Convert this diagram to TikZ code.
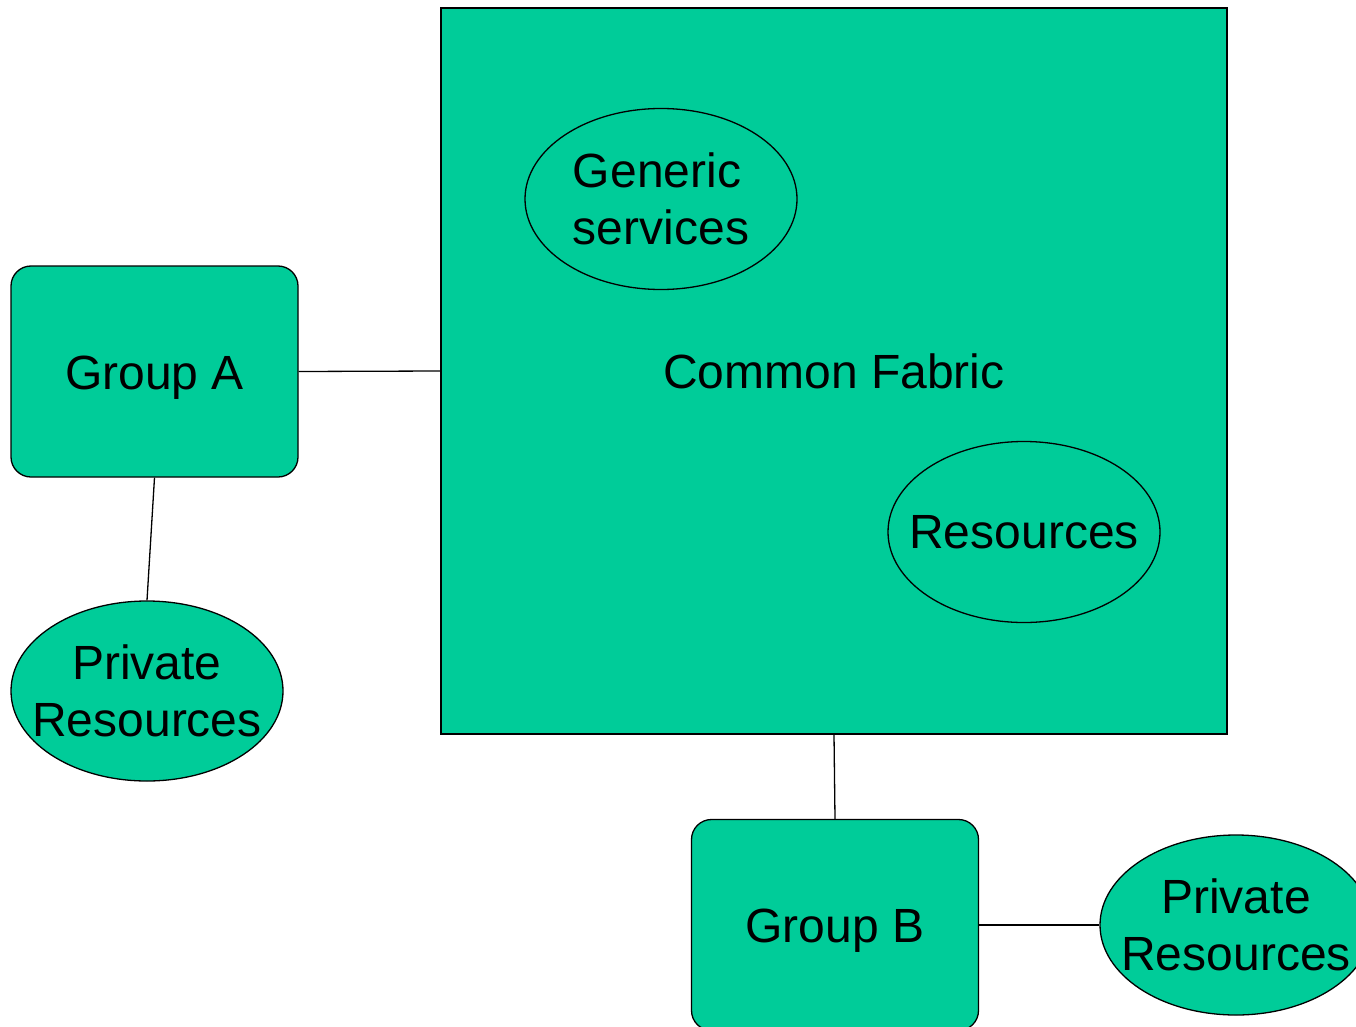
\documentclass[tikz,border=0pt]{standalone}
\usepackage{fontspec}
\setmainfont{Liberation Sans}
\usetikzlibrary{shapes.geometric}
\definecolor{fab}{RGB}{0,204,153}
\begin{document}
\begin{tikzpicture}[x=1pt,y=-1pt,
  every node/.style={font=\fontsize{48}{57}\selectfont, align=center, inner sep=0pt},
  boxstyle/.style={draw=black, fill=fab, line width=1.3pt},
  roundbox/.style={boxstyle, rounded corners=20pt, minimum width=287pt, minimum height=211pt},
  ellstyle/.style={boxstyle, ellipse, inner xsep=-30pt, inner ysep=0pt, minimum width=272pt, minimum height=181pt},
  conn/.style={draw=black, line width=1.3pt}]
\clip (0,0) rectangle (1356,1027);
\node[boxstyle, minimum width=786pt, minimum height=726pt] (fabric) at (834,371) {Common Fabric};
\node[ellstyle, align=left] (generic) at (661,199) {Generic\\services};
\node[ellstyle] (res) at (1024,532) {Resources};
\node[roundbox] (ga) at (154.5,371.5) {\raisebox{-6pt}[\height][\depth]{Group A}};
\node[ellstyle, minimum height=180pt] (pra) at (147,691) {Private\\Resources};
\node[roundbox] (gb) at (835,925) {\raisebox{-6pt}[\height][\depth]{Group B}};
\node[ellstyle, minimum height=180pt] (prb) at (1236,925) {Private\\Resources};
\draw[conn] (ga.east) -- (fabric.west);
\draw[conn] (ga.south) -- (pra.north);
\draw[conn] (fabric.south) -- (gb.north);
\draw[conn] (gb.east) -- (prb.west);
\end{tikzpicture}
\end{document}
